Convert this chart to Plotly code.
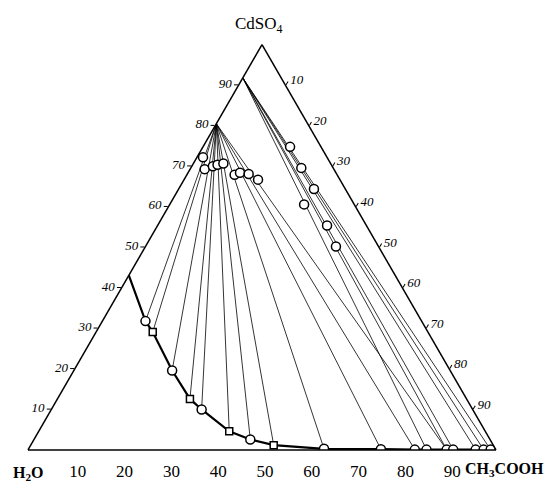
import plotly.graph_objects as go

# Liquid (solution) compositions on the solubility curve, wt%
liq_cdso4 = [43.1, 31.8, 29.1, 19.6, 12.6, 10.0, 4.6, 2.6, 1.2, 0.3, 0.2, 0.1, 0.1, 0.1, 0.1, 0.1, 0.1, 0.1]
liq_acoh  = [0.0, 9.2, 12.1, 21.0, 28.3, 32.1, 40.7, 46.2, 51.9, 63.1, 75.3, 82.6, 85.1, 89.4, 90.8, 95.6, 97.3, 98.8]
liq_marker = ["none", "circle", "square", "circle", "square", "circle", "square",
              "circle", "square", "circle", "circle", "circle", "circle",
              "circle", "circle", "circle", "circle", "circle"]

# Solid phases on the H2O-CdSO4 edge (CdSO4 wt%)
solid_low = 80.5   # CdSO4·8/3H2O
solid_high = 91.8  # CdSO4·H2O

# tie lines: indices of liquid points joined to each solid
tie_low = [1, 2, 3, 4, 5, 6, 7, 8, 9, 10, 11, 13]
tie_high = [12, 13, 14, 15, 16, 17]

# Wet residues
res_cdso4 = [72.2, 69.3, 70.0, 70.4, 70.7, 67.9, 68.4, 68.1, 66.7, 74.8, 69.6, 64.4, 60.6, 55.4, 50.2]
res_acoh  = [1.3, 3.1, 4.5, 5.3, 6.4, 10.2, 11.1, 13.1, 15.8, 18.6, 23.6, 28.9, 28.7, 36.2, 40.7]

ticks = [10, 20, 30, 40, 50, 60, 70, 80, 90]
bottom_ticktext = ["10", "20", "30", "40", "50", "60", "70", "80", "90"]


def h2o(a, c):
    return [round(100 - x - y, 3) for x, y in zip(a, c)]


fig = go.Figure()

# tie lines
ta, tc = [], []
for i in tie_low:
    ta += [solid_low, liq_cdso4[i], None]
    tc += [0.0, liq_acoh[i], None]
for i in tie_high:
    ta += [solid_high, liq_cdso4[i], None]
    tc += [0.0, liq_acoh[i], None]
tb = [None if x is None else 100 - x - y for x, y in zip(ta, tc)]
fig.add_trace(go.Scatterternary(a=ta, b=tb, c=tc, mode="lines",
                                line=dict(color="black", width=0.8), hoverinfo="skip", connectgaps=False))

# solubility curve
fig.add_trace(go.Scatterternary(a=liq_cdso4, b=h2o(liq_cdso4, liq_acoh), c=liq_acoh, mode="lines",
                                line=dict(color="black", width=2.2), hoverinfo="skip"))

# liquid markers
mk_a = [a for a, m in zip(liq_cdso4, liq_marker) if m != "none"]
mk_c = [c for c, m in zip(liq_acoh, liq_marker) if m != "none"]
mk_s = [m for m in liq_marker if m != "none"]
mk_size = [7 if s == "square" else 9 for s in mk_s]
fig.add_trace(go.Scatterternary(a=mk_a, b=h2o(mk_a, mk_c), c=mk_c, mode="markers",
                                marker=dict(symbol=mk_s, size=mk_size, color="#ffffff", opacity=1,
                                            line=dict(color="#000000", width=1.5))))

# residues
fig.add_trace(go.Scatterternary(a=res_cdso4, b=h2o(res_cdso4, res_acoh), c=res_acoh, mode="markers",
                                marker=dict(symbol="circle", size=9, color="#ffffff", opacity=1,
                                            line=dict(color="#000000", width=1.5))))

italic = dict(family="Liberation Serif", size=13, color="black", style="italic")
axis_common = dict(showgrid=False, linecolor="black", linewidth=1.5, tickmode="array", min=0,
                   title=dict(text=""))

# page offset compensation (the page body adds a small margin)
dx = -8.5
dy = 7.0
W, H = 555, 483


def px(x):
    return (x + dx) / W


def py(y):
    return 1 - (y - dy) / H


fig.update_layout(
    width=W, height=H,
    margin=dict(l=0, r=0, t=0, b=0, autoexpand=False),
    paper_bgcolor="white",
    showlegend=False,
    ternary=dict(
        sum=100,
        bgcolor="white",
        domain=dict(x=[(28.5 + dx) / W, (496.5 + dx) / W],
                    y=[(34 + dy) / H, (439.3 + dy) / H]),
        aaxis=dict(**axis_common, tickvals=ticks, ticks="outside", ticklen=4, tickcolor="black",
                   ticktext=[str(t) for t in ticks], tickfont=italic),
        baxis=dict(**axis_common, tickvals=[100 - t for t in ticks], ticktext=bottom_ticktext,
                   ticks="outside", ticklen=6, tickcolor="rgba(255,255,255,0)",
                   tickfont=dict(family="Liberation Serif", size=17, color="black")),
        caxis=dict(**axis_common, tickvals=ticks, ticks="outside", ticklen=4, tickcolor="black",
                   ticktext=[str(t) for t in ticks], tickfont=italic),
    ),
    annotations=[
        dict(text="CdSO<sub>4</sub>", x=px(259), y=py(24), xref="paper", yref="paper",
             xanchor="center", yanchor="middle",
             showarrow=False, font=dict(family="Liberation Serif", size=17, color="black")),
        dict(text="<b>H<sub>2</sub>O</b>", x=px(29), y=py(472), xref="paper", yref="paper",
             xanchor="center", yanchor="middle",
             showarrow=False, font=dict(family="Liberation Serif", size=16, color="black")),
        dict(text="<b>CH<sub>3</sub>COOH</b>", x=px(505), y=py(468), xref="paper", yref="paper",
             xanchor="center", yanchor="middle",
             showarrow=False, font=dict(family="Liberation Serif", size=16, color="black")),
    ],
)

fig.write_html("out.html")
